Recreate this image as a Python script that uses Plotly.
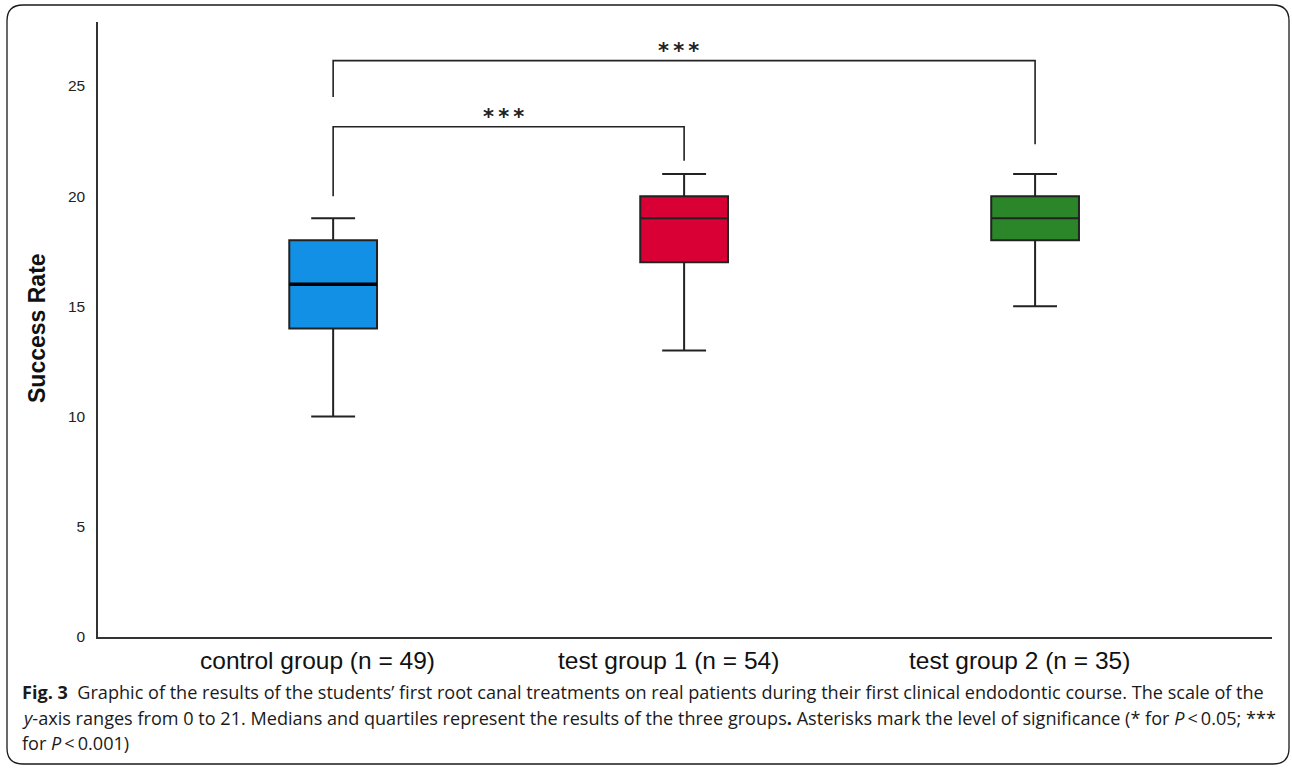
import plotly.graph_objects as go

# Group summaries (success rate)
groups = ["control group (n = 49)", "test group 1 (n = 54)", "test group 2 (n = 35)"]
lower_fence = [10, 13, 15]
q1 = [14, 17, 18]
median = [16, 19, 19]
q3 = [18, 20, 20]
upper_fence = [19, 21, 21]
fill_colors = ["#1190e6", "#d80034", "#2a8629"]

# Significance brackets: (left group, right group, bar height, left leg end, right leg end, label)
brackets = [
    (0, 1, 23.15, 20.0, 21.6, "***"),
    (0, 2, 26.15, 24.5, 22.35, "***"),
]

y_ticks = [0, 5, 10, 15, 20, 25]

W, H = 1292, 771
L, R, T, B = 98, 20, 22, 134
pw, ph = W - L - R, H - T - B


def px_to_paper(x, y):
    return (x - L) / pw, (H - B - y) / ph


fig = go.Figure()

for i, name in enumerate(groups):
    fig.add_trace(go.Box(
        x=[i],
        q1=[q1[i]], median=[median[i]], q3=[q3[i]],
        lowerfence=[lower_fence[i]], upperfence=[upper_fence[i]],
        width=0.25, whiskerwidth=0.5,
        fillcolor=fill_colors[i],
        line=dict(color="#222222", width=2),
        boxpoints=False, name=name, showlegend=False,
    ))

# heavier median stroke on the control group
fig.add_shape(type="line", xref="x", yref="y",
              x0=-0.125, x1=0.125, y0=median[0], y1=median[0],
              line=dict(color="#000000", width=3.5))

for a, b, h, la, lb, label in brackets:
    fig.add_shape(type="path", xref="x", yref="y",
                  path=f"M {a},{la} L {a},{h} L {b},{h} L {b},{lb}",
                  line=dict(color="#222222", width=1.6))
    fig.add_annotation(x=(a + b) / 2 - 0.015, y=h, xref="x", yref="y",
                       text="<b>" + "\u2009".join(label) + "</b>", showarrow=False,
                       yanchor="bottom", yshift=-4,
                       font=dict(family="DejaVu Sans", size=21, color="#222222"))

# group labels under the axis
for i, name in enumerate(groups):
    fig.add_annotation(x=i - 0.045, y=0, xref="x", yref="y", text=name,
                       showarrow=False, yanchor="top", yshift=-8,
                       font=dict(family="Liberation Sans", size=24.5, color="#111111"))

# rounded frame around the figure and its caption
x0p, y0p = 7, 5
x1p, y1p = 1289, 764
r = 16
def P(x, y):
    u, v = px_to_paper(x, y)
    return f"{u:.5f},{v:.5f}"
frame = (
    f"M {P(x0p + r, y0p)} L {P(x1p - r, y0p)} Q {P(x1p, y0p)} {P(x1p, y0p + r)} "
    f"L {P(x1p, y1p - r)} Q {P(x1p, y1p)} {P(x1p - r, y1p)} "
    f"L {P(x0p + r, y1p)} Q {P(x0p, y1p)} {P(x0p, y1p - r)} "
    f"L {P(x0p, y0p + r)} Q {P(x0p, y0p)} {P(x0p + r, y0p)} Z"
)
fig.add_shape(type="path", xref="paper", yref="paper", path=frame,
              line=dict(color="#1a1a1a", width=1.3), layer="below")

# y-axis title
tx, ty = px_to_paper(37, 328)
fig.add_annotation(x=tx, y=ty, xref="paper", yref="paper", text="<b>Success Rate</b>",
                   textangle=-90, showarrow=False, xanchor="center", yanchor="middle",
                   font=dict(family="Liberation Sans", size=23, color="#111111"))

# caption
caption_lines = [
    "<b>Fig. 3</b>  Graphic of the results of the students\u2019 first root canal treatments on real patients during their first clinical endodontic course. The scale of the",
    "<i>y</i>-axis ranges from 0 to 21. Medians and quartiles represent the results of the three groups<b>.</b> Asterisks mark the level of significance (* for <i>P</i>\u2009<\u20090.05; ***",
    "for <i>P</i>\u2009<\u20090.001)",
]
for k, line in enumerate(caption_lines):
    cx, cy = px_to_paper(20, 692 + 25.5 * k)
    fig.add_annotation(x=cx, y=cy, xref="paper", yref="paper", text=line,
                       showarrow=False, xanchor="left", yanchor="middle",
                       font=dict(family="Open Sans", size=18.1, color="#1a1a1a"))

fig.update_layout(
    width=W, height=H,
    margin=dict(l=L, r=R, t=T, b=B),
    plot_bgcolor="white", paper_bgcolor="white",
    xaxis=dict(
        range=[-0.67, 2.675], tickmode="array", tickvals=[0, 1, 2], showticklabels=False,
        showline=True, linecolor="#333333", linewidth=1.5, showgrid=False, zeroline=False,
        ticks="",
    ),
    yaxis=dict(
        range=[0, 27.9], tickmode="array", tickvals=y_ticks,
        showline=True, linecolor="#333333", linewidth=1.5, showgrid=False, zeroline=False,
        ticks="", ticklabelstandoff=8,
        tickfont=dict(family="Liberation Sans", size=15.5, color="#222222"),
    ),
)

fig.write_html("out.html")
